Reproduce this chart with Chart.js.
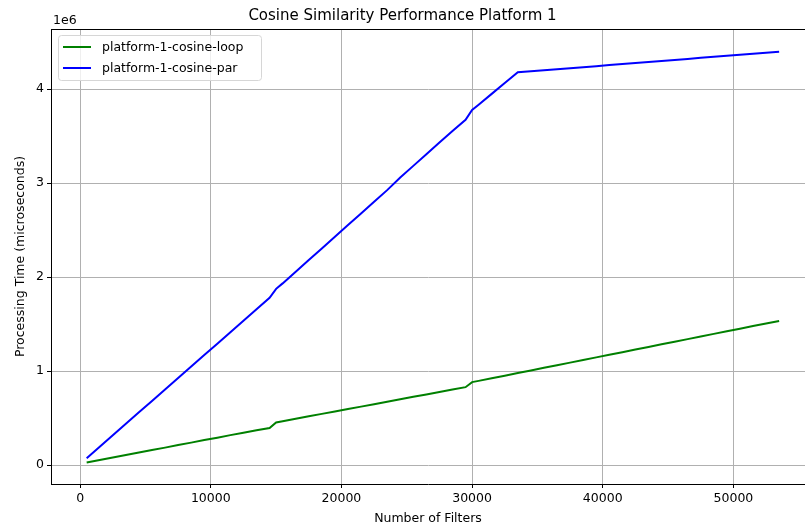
<!DOCTYPE html>
<html>
<head>
<meta charset="utf-8">
<script src="https://cdn.jsdelivr.net/npm/chart.js@4"></script>
<style>
  html, body { margin: 0; padding: 0; background: #fff; overflow: hidden; }
  canvas { display: block; }
</style>
</head>
<body>
<canvas id="c" width="805" height="530"></canvas>
<script>
// Number of filters evaluated
const filters = [
  500, 1500, 2500, 3500, 4500, 5500, 6500, 7500, 8500, 9500,
  10500, 11500, 12500, 13500, 14500, 15000, 15500, 16500, 17500, 18500, 19500,
  20500, 21500, 22500, 23500, 24500, 25500, 26500, 27500, 28500, 29500,
  30000, 30500, 31500, 32500, 33500, 34500, 35500, 36500, 37500, 38500, 39500,
  40500, 41500, 42500, 43500, 44500, 45500, 46500, 47500, 48500, 49500,
  50500, 51500, 52500, 53500
];

// Processing time in microseconds, loop implementation
const loopTimes = [
  28000, 55000, 82000, 108000, 135000, 161000, 187000, 214000, 240000, 267000,
  293000, 320000, 346000, 372000, 396000, 455000, 468000, 494000, 520000, 546000, 572000,
  598000, 623000, 649000, 675000, 701000, 727000, 753000, 779000, 805000, 830000,
  884000, 897000, 925000, 952000, 980000, 1008000, 1036000, 1064000, 1091000, 1119000, 1147000,
  1175000, 1202000, 1230000, 1258000, 1286000, 1313000, 1341000, 1369000, 1397000, 1425000,
  1452000, 1480000, 1508000, 1535000
];

// Processing time in microseconds, parallel implementation
const parTimes = [
  75000, 197000, 319000, 440000, 562000, 684000, 806000, 928000, 1050000, 1171000,
  1293000, 1415000, 1537000, 1659000, 1780000, 1876000, 1934000, 2058000, 2182000, 2306000, 2430000,
  2554000, 2678000, 2802000, 2926000, 3060000, 3184000, 3308000, 3432000, 3556000, 3675000,
  3780000, 3835000, 3950000, 4065000, 4180000, 4190000, 4201000, 4212000, 4223000, 4234000, 4245000,
  4256000, 4267000, 4278000, 4289000, 4300000, 4311000, 4322000, 4333000, 4344000, 4355000,
  4366000, 4377000, 4388000, 4399000
];

const seriesNames = ['platform-1-cosine-loop', 'platform-1-cosine-par'];
const xTicks = [0, 10000, 20000, 30000, 40000, 50000];
const yTicks = [0, 1000000, 2000000, 3000000, 4000000];
const yScaleFactor = 1e6;

const FONT = 'DejaVu Sans';
const tickFont = { family: FONT, size: 12.5 };

const pairs = ys => filters.map((f, i) => ({ x: f, y: ys[i] }));

// Frame top edge, exponent label and boxed legend inside the plot
const decorations = {
  id: 'decorations',
  afterDraw(chart) {
    const { ctx, chartArea: a } = chart;
    ctx.save();
    ctx.strokeStyle = '#000';
    ctx.lineWidth = 1;
    ctx.beginPath();
    ctx.moveTo(a.left, a.top + 0.5);
    ctx.lineTo(a.right, a.top + 0.5);
    ctx.stroke();

    ctx.fillStyle = '#000';
    ctx.font = `12.5px "${FONT}"`;
    ctx.textAlign = 'left';
    ctx.textBaseline = 'middle';
    ctx.fillText('1e' + Math.log10(yScaleFactor), a.left + 2, 21);

    // legend box
    const bx = 58.5, by = 35.5, bw = 203, bh = 45, r = 3;
    ctx.beginPath();
    ctx.moveTo(bx + r, by);
    ctx.arcTo(bx + bw, by, bx + bw, by + bh, r);
    ctx.arcTo(bx + bw, by + bh, bx, by + bh, r);
    ctx.arcTo(bx, by + bh, bx, by, r);
    ctx.arcTo(bx, by, bx + bw, by, r);
    ctx.closePath();
    ctx.fillStyle = 'rgba(255,255,255,0.8)';
    ctx.fill();
    ctx.strokeStyle = '#d6d6d6';
    ctx.lineWidth = 1;
    ctx.stroke();

    chart.data.datasets.forEach((ds, i) => {
      const y = 47 + i * 21;
      ctx.strokeStyle = ds.borderColor;
      ctx.lineWidth = 2;
      ctx.beginPath();
      ctx.moveTo(63, y);
      ctx.lineTo(91, y);
      ctx.stroke();
      ctx.fillStyle = '#000';
      ctx.font = `12.5px "${FONT}"`;
      ctx.textBaseline = 'middle';
      ctx.fillText(ds.label, 102, y + 0.5);
    });
    ctx.restore();
  }
};

new Chart(document.getElementById('c'), {
  type: 'line',
  data: {
    datasets: [
      { label: seriesNames[0], data: pairs(loopTimes), borderColor: '#008000',
        borderWidth: 2, pointRadius: 0, tension: 0, fill: false },
      { label: seriesNames[1], data: pairs(parTimes), borderColor: '#0000ff',
        borderWidth: 2, pointRadius: 0, tension: 0, fill: false }
    ]
  },
  options: {
    responsive: false,
    animation: false,
    devicePixelRatio: 1,
    layout: { padding: 0 },
    plugins: {
      legend: { display: false },
      tooltip: { enabled: false },
      title: {
        display: true,
        text: 'Cosine Similarity Performance Platform 1',
        color: '#000',
        font: { family: FONT, size: 15, weight: 'normal' },
        padding: { top: 7, bottom: 4 }
      }
    },
    scales: {
      x: {
        type: 'linear',
        min: -2230,
        max: 55480,
        afterBuildTicks: s => { s.ticks = xTicks.map(v => ({ value: v })); },
        afterFit: s => { s.height = 46; },
        grid: { color: '#b0b0b0', lineWidth: 1, tickLength: 4, tickColor: '#000', tickWidth: 1 },
        border: { display: true, color: '#000', width: 1 },
        ticks: { padding: 3, color: '#000', font: tickFont, maxRotation: 0, autoSkip: false,
                 callback: v => String(v) },
        title: { display: true, text: 'Number of Filters', color: '#000', font: tickFont,
                 padding: { top: 0, bottom: 4 } }
      },
      y: {
        type: 'linear',
        min: -200000,
        max: 4640000,
        afterBuildTicks: s => { s.ticks = yTicks.map(v => ({ value: v })); },
        afterFit: s => { s.width = 51; },
        grid: { color: '#b0b0b0', lineWidth: 1, tickLength: 4, tickColor: '#000', tickWidth: 1 },
        border: { display: true, color: '#000', width: 1 },
        ticks: { padding: 3, color: '#000', font: tickFont, autoSkip: false,
                 callback: v => String(v / yScaleFactor) },
        title: { display: true, text: 'Processing Time (microseconds)', color: '#000', font: tickFont,
                 padding: { top: 13, bottom: 0 } }
      }
    }
  },
  plugins: [decorations]
});
</script>
</body>
</html>
